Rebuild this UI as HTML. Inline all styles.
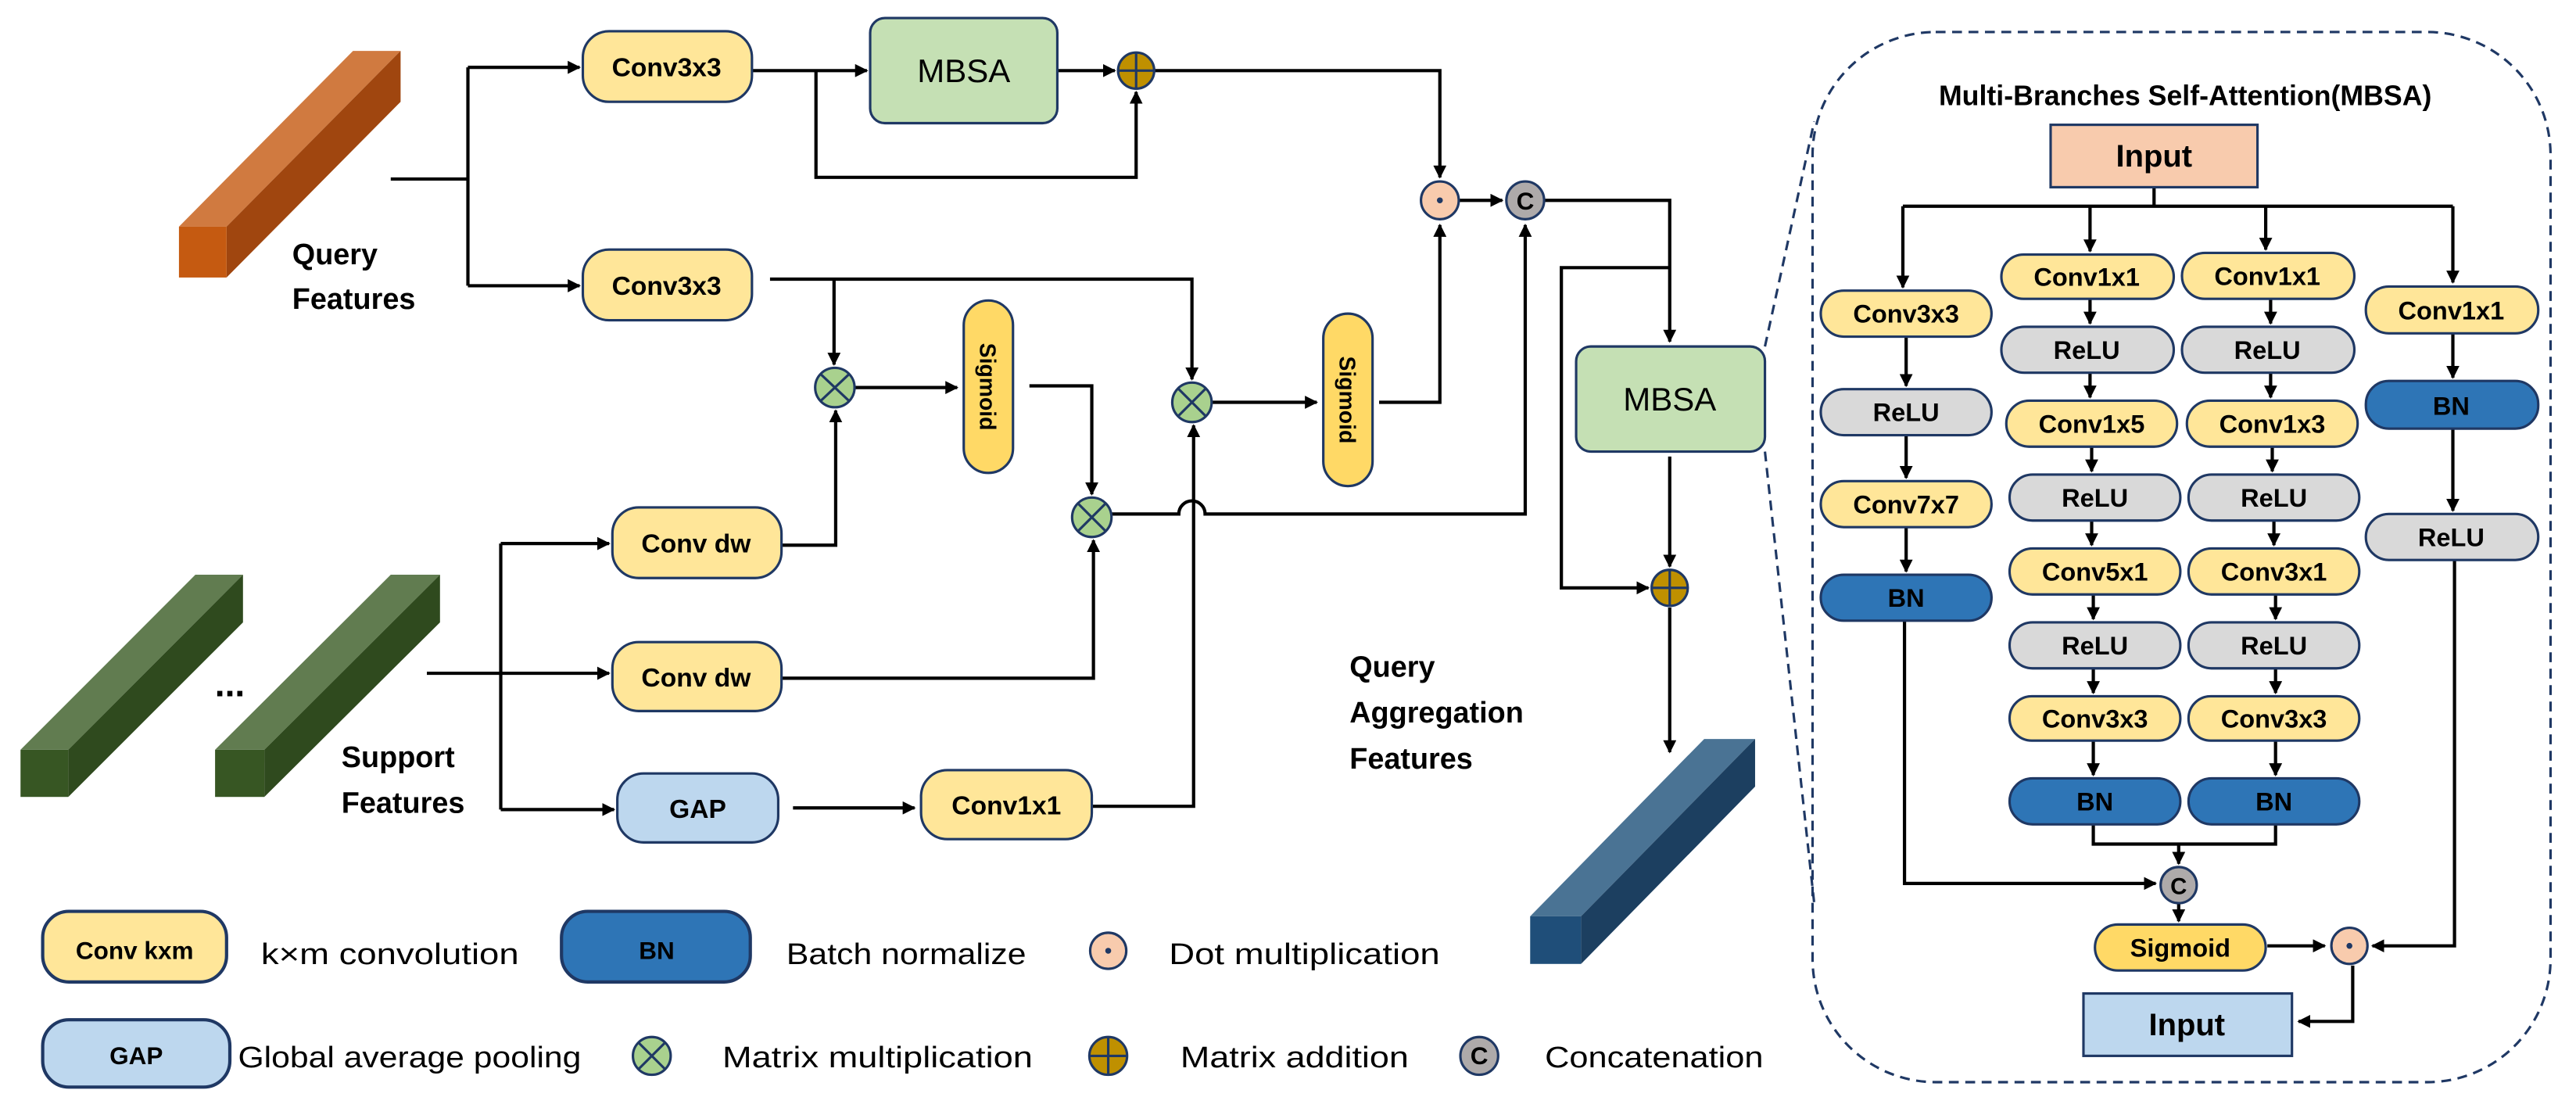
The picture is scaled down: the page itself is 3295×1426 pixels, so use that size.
<!DOCTYPE html>
<html><head><meta charset="utf-8"><style>
html,body{margin:0;padding:0;background:#fff;}
svg{display:block;}
text{font-family:"Liberation Sans",sans-serif;}
</style></head><body>
<svg width="3295" height="1426" viewBox="0 0 1569 679" preserveAspectRatio="none" xmlns="http://www.w3.org/2000/svg">
<defs>
<marker id="a" viewBox="0 0 10 10" refX="9" refY="5" markerWidth="4" markerHeight="4" orient="auto"><path d="M0,0 L10,5 L0,10 z" fill="#000"/></marker>
</defs>
<!-- blocks -->
<polygon points="109,138 215,31 244,31 138,138" fill="#d07a40"/>
<polygon points="138,138 244,31 244,62 138,169" fill="#a0460f"/>
<rect x="109" y="138" width="29" height="31" fill="#c55a11"/>
<polygon points="12.5,456.6 119,350 148,350 41.6,456.6" fill="#617c50"/>
<polygon points="41.6,456.6 148,350 148,379 41.6,485.3" fill="#2f4a1e"/>
<rect x="12.5" y="456.6" width="29.1" height="28.7" fill="#375623"/>
<polygon points="131,456.6 238,350 268,350 161,456.6" fill="#617c50"/>
<polygon points="161,456.6 268,350 268,379 161,485.3" fill="#2f4a1e"/>
<rect x="131" y="456.6" width="30" height="28.7" fill="#375623"/>
<text x="140" y="424" font-size="22" font-weight="bold" text-anchor="middle">...</text>
<polygon points="932,558 1038,450 1069,450 963,558" fill="#4a7394"/>
<polygon points="963,558 1069,450 1069,479 963,587" fill="#1c3f60"/>
<rect x="932" y="558" width="31" height="29" fill="#1f4e79"/>

<g font-weight="bold" font-size="18">
<text x="178" y="161">Query</text><text x="178" y="188">Features</text>
<text x="208" y="467">Support</text><text x="208" y="495">Features</text>
<text x="822" y="412">Query</text><text x="822" y="440">Aggregation</text><text x="822" y="468">Features</text>
</g>

<!-- connectors main -->
<g fill="none" stroke="#000" stroke-width="2">
<path d="M238,109 H285"/><path d="M285,41 V174"/>
<path d="M285,41 H353" marker-end="url(#a)"/><path d="M285,174 H353" marker-end="url(#a)"/>
<path d="M458,43 H528" marker-end="url(#a)"/>
<path d="M497,43 V108 H692 V56" marker-end="url(#a)"/>
<path d="M644,43 H679" marker-end="url(#a)"/>
<path d="M703,43 H877 V108" marker-end="url(#a)"/>
<path d="M889,122 H915" marker-end="url(#a)"/>
<path d="M941,122 H1017 V208" marker-end="url(#a)"/>
<path d="M1017,163 H951 V358 H1004" marker-end="url(#a)"/>
<path d="M1017,278 V345" marker-end="url(#a)"/>
<path d="M1017,370 V458" marker-end="url(#a)"/>
<path d="M469,170 H726 V231" marker-end="url(#a)"/>
<path d="M508,170 V222" marker-end="url(#a)"/>
<path d="M521,236 H583" marker-end="url(#a)"/>
<path d="M627,235 H665 V301" marker-end="url(#a)"/>
<path d="M476,332 H509 V250" marker-end="url(#a)"/>
<path d="M476,413 H666 V329" marker-end="url(#a)"/>
<path d="M665,491 H727 V259" marker-end="url(#a)"/>
<path d="M738,245 H802" marker-end="url(#a)"/>
<path d="M840,245 H877 V137" marker-end="url(#a)"/>
<path d="M677,313 H718 a8,8 0 0 1 16,0 H929 V137" marker-end="url(#a)"/>
<path d="M305,331 V493"/>
<path d="M305,331 H371" marker-end="url(#a)"/>
<path d="M305,493 H374" marker-end="url(#a)"/>
<path d="M260,410 H371" marker-end="url(#a)"/>
<path d="M483,492 H557" marker-end="url(#a)"/>
</g>

<!-- main boxes -->
<g stroke="#1f3864" stroke-width="1.5">
<rect x="355" y="19" width="103" height="43" rx="16" fill="#ffe699"/>
<rect x="355" y="152" width="103" height="43" rx="16" fill="#ffe699"/>
<rect x="530" y="11" width="114" height="64" rx="9" fill="#c5e0b4"/>
<rect x="587" y="183" width="30" height="105" rx="15" fill="#ffd966"/>
<rect x="806" y="191" width="30" height="105" rx="15" fill="#ffd966"/>
<rect x="373" y="309" width="103" height="43" rx="16" fill="#ffe699"/>
<rect x="373" y="391" width="103" height="42" rx="16" fill="#ffe699"/>
<rect x="376" y="471" width="98" height="42" rx="16" fill="#bdd7ee"/>
<rect x="561" y="469" width="104" height="42" rx="16" fill="#ffe699"/>
<rect x="960" y="211" width="115" height="64" rx="9" fill="#c5e0b4"/>
</g>
<g font-weight="bold" font-size="16" text-anchor="middle">
<text x="406" y="46.5">Conv3x3</text>
<text x="406" y="179.5">Conv3x3</text>
<text x="587" y="50" font-size="20" font-weight="normal">MBSA</text>
<text x="424" y="336.5">Conv dw</text>
<text x="424" y="418">Conv dw</text>
<text x="425" y="498">GAP</text>
<text x="613" y="496">Conv1x1</text>
<text x="1017" y="250" font-size="20" font-weight="normal">MBSA</text>
<text transform="translate(602,235.5) rotate(90)" y="5" font-size="13.5">Sigmoid</text>
<text transform="translate(821,243.5) rotate(90)" y="5" font-size="13.5">Sigmoid</text>
</g>

<!-- main circles -->
<g stroke="#1f3864" stroke-width="1.5">
<circle cx="692" cy="43" r="11" fill="#bf9000"/>
<circle cx="877" cy="122" r="11.5" fill="#f8cbad"/>
<circle cx="929" cy="122" r="11.5" fill="#aeaaaa"/>
<circle cx="1017" cy="358" r="11" fill="#bf9000"/>
<circle cx="508.5" cy="236" r="12" fill="#a9d18e"/>
<circle cx="726" cy="245" r="12" fill="#a9d18e"/>
<circle cx="665" cy="315" r="12" fill="#a9d18e"/>
</g>
<g stroke="#1f3864" stroke-width="1.5" fill="none">
<path d="M681,43 H703 M692,32 V54"/>
<path d="M1006,358 H1028 M1017,347 V369"/>
<path d="M500,228 L517,244 M517,228 L500,244"/>
<path d="M718,237 L734,253 M734,237 L718,253"/>
<path d="M657,307 L673,323 M673,307 L657,323"/>
</g>
<circle cx="877" cy="122" r="1.8" fill="#1f3864"/>
<text x="929" y="127.5" font-size="15" font-weight="bold" text-anchor="middle">C</text>

<!-- right panel -->
<rect x="1104" y="19.5" width="449.5" height="639.5" rx="75" fill="none" stroke="#1f3864" stroke-width="1.5" stroke-dasharray="6,4"/>
<path d="M1075,211 L1105,74 M1075,275 L1105,550" fill="none" stroke="#1f3864" stroke-width="1.5" stroke-dasharray="6,4"/>
<text x="1331" y="64" font-size="17" font-weight="bold" text-anchor="middle">Multi-Branches Self-Attention(MBSA)</text>

<g fill="none" stroke="#000" stroke-width="2">
<path d="M1312,114 V125.6"/><path d="M1159,125.6 H1494"/>
<path d="M1159,125.6 V175" marker-end="url(#a)"/>
<path d="M1273,125.6 V153" marker-end="url(#a)"/>
<path d="M1380,125.6 V152" marker-end="url(#a)"/>
<path d="M1494,125.6 V172" marker-end="url(#a)"/>
<path d="M1161,205 V235" marker-end="url(#a)"/>
<path d="M1161,265 V291" marker-end="url(#a)"/>
<path d="M1161,321 V348" marker-end="url(#a)"/>
<path d="M1273,182 V197" marker-end="url(#a)"/>
<path d="M1273,227 V242" marker-end="url(#a)"/>
<path d="M1274,272 V287" marker-end="url(#a)"/>
<path d="M1274,317 V332" marker-end="url(#a)"/>
<path d="M1275,362 V377" marker-end="url(#a)"/>
<path d="M1275,407 V422" marker-end="url(#a)"/>
<path d="M1275,451 V472" marker-end="url(#a)"/>
<path d="M1383,182 V197" marker-end="url(#a)"/>
<path d="M1383,227 V242" marker-end="url(#a)"/>
<path d="M1384,272 V287" marker-end="url(#a)"/>
<path d="M1385,317 V332" marker-end="url(#a)"/>
<path d="M1386,362 V377" marker-end="url(#a)"/>
<path d="M1386,407 V422" marker-end="url(#a)"/>
<path d="M1386,451 V472" marker-end="url(#a)"/>
<path d="M1494,203 V230" marker-end="url(#a)"/>
<path d="M1494,261 V311" marker-end="url(#a)"/>
<path d="M1275,502 V514 H1386 V502"/>
<path d="M1327,514 V526" marker-end="url(#a)"/>
<path d="M1160,378 V538 H1313" marker-end="url(#a)"/>
<path d="M1327,550 V561" marker-end="url(#a)"/>
<path d="M1381,576 H1416" marker-end="url(#a)"/>
<path d="M1495,341 V576 H1445" marker-end="url(#a)"/>
<path d="M1433,588 V622 H1400" marker-end="url(#a)"/>
</g>

<g stroke="#1f3864" stroke-width="1.5">
<rect x="1249" y="76" width="126" height="38" fill="#f8cbad"/>
<rect x="1269" y="605" width="127" height="38" fill="#bdd7ee"/>
<rect x="1109" y="177" width="104" height="28" rx="14" fill="#ffe699"/>
<rect x="1109" y="237" width="104" height="28" rx="14" fill="#d9d9d9"/>
<rect x="1109" y="293" width="104" height="28" rx="14" fill="#ffe699"/>
<rect x="1109" y="350" width="104" height="28" rx="14" fill="#2e75b6"/>
<rect x="1219" y="155" width="105" height="27" rx="13.5" fill="#ffe699"/>
<rect x="1219" y="199" width="105" height="28" rx="14" fill="#d9d9d9"/>
<rect x="1222" y="244" width="104" height="28" rx="14" fill="#ffe699"/>
<rect x="1224" y="289" width="104" height="28" rx="14" fill="#d9d9d9"/>
<rect x="1224" y="334" width="104" height="28" rx="14" fill="#ffe699"/>
<rect x="1224" y="379" width="104" height="28" rx="14" fill="#d9d9d9"/>
<rect x="1224" y="424" width="104" height="27" rx="13.5" fill="#ffe699"/>
<rect x="1224" y="474" width="104" height="28" rx="14" fill="#2e75b6"/>
<rect x="1329" y="154" width="105" height="28" rx="14" fill="#ffe699"/>
<rect x="1329" y="199" width="105" height="28" rx="14" fill="#d9d9d9"/>
<rect x="1332" y="244" width="104" height="28" rx="14" fill="#ffe699"/>
<rect x="1333" y="289" width="104" height="28" rx="14" fill="#d9d9d9"/>
<rect x="1333" y="334" width="104" height="28" rx="14" fill="#ffe699"/>
<rect x="1333" y="379" width="104" height="28" rx="14" fill="#d9d9d9"/>
<rect x="1333" y="424" width="104" height="27" rx="13.5" fill="#ffe699"/>
<rect x="1333" y="474" width="104" height="28" rx="14" fill="#2e75b6"/>
<rect x="1441" y="174.5" width="105" height="28.5" rx="14" fill="#ffe699"/>
<rect x="1441" y="232" width="105" height="29" rx="14" fill="#2e75b6"/>
<rect x="1441" y="313" width="105" height="28" rx="14" fill="#d9d9d9"/>
<rect x="1276" y="563" width="104" height="28" rx="14" fill="#ffd966"/>
<circle cx="1327" cy="539" r="11" fill="#aeaaaa"/>
<circle cx="1431" cy="576" r="11" fill="#f8cbad"/>
</g>
<circle cx="1431" cy="576" r="1.8" fill="#1f3864"/>
<g font-weight="bold" font-size="15.5" text-anchor="middle">
<text x="1312" y="101.5" font-size="19">Input</text>
<text x="1332" y="630.5" font-size="19">Input</text>
<text x="1327" y="544.5" font-size="14">C</text>
<text x="1161" y="196.5">Conv3x3</text>
<text x="1161" y="256.5">ReLU</text>
<text x="1161" y="312.5">Conv7x7</text>
<text x="1161" y="369.5">BN</text>
<text x="1271" y="174">Conv1x1</text>
<text x="1271" y="218.5">ReLU</text>
<text x="1274" y="263.5">Conv1x5</text>
<text x="1276" y="308.5">ReLU</text>
<text x="1276" y="353.5">Conv5x1</text>
<text x="1276" y="398.5">ReLU</text>
<text x="1276" y="443">Conv3x3</text>
<text x="1276" y="493.5">BN</text>
<text x="1381" y="173.5">Conv1x1</text>
<text x="1381" y="218.5">ReLU</text>
<text x="1384" y="263.5">Conv1x3</text>
<text x="1385" y="308.5">ReLU</text>
<text x="1385" y="353.5">Conv3x1</text>
<text x="1385" y="398.5">ReLU</text>
<text x="1385" y="443">Conv3x3</text>
<text x="1385" y="493.5">BN</text>
<text x="1493" y="194.5">Conv1x1</text>
<text x="1493" y="252.5">BN</text>
<text x="1493" y="332.5">ReLU</text>
<text x="1328" y="582.5">Sigmoid</text>
</g>

<!-- legend -->
<g stroke="#1f3864" stroke-width="2">
<rect x="26" y="555" width="112" height="43" rx="16" fill="#ffe699"/>
<rect x="342" y="555" width="115" height="43" rx="16" fill="#2e75b6"/>
<rect x="26" y="621" width="114" height="41" rx="16" fill="#bdd7ee"/>
<circle cx="675" cy="579" r="11" fill="#f8cbad" stroke-width="1.5"/>
<circle cx="397" cy="643" r="11.5" fill="#a9d18e" stroke-width="1.5"/>
<circle cx="675" cy="643" r="11.5" fill="#bf9000" stroke-width="1.5"/>
<circle cx="901" cy="643" r="11.5" fill="#aeaaaa" stroke-width="1.5"/>
</g>
<circle cx="675" cy="579" r="1.8" fill="#1f3864"/>
<path d="M389,635 L405,651 M405,635 L389,651 M664,643 H686 M675,632 V654" stroke="#1f3864" stroke-width="1.5" fill="none"/>
<g font-weight="bold" font-size="15" text-anchor="middle">
<text x="82" y="584">Conv kxm</text>
<text x="400" y="584">BN</text>
<text x="83" y="648">GAP</text>
<text x="901" y="648">C</text>
</g>
<g font-size="18">
<text x="159" y="587" textLength="157" lengthAdjust="spacingAndGlyphs">k×m convolution</text>
<text x="479" y="587" textLength="146" lengthAdjust="spacingAndGlyphs">Batch normalize</text>
<text x="712" y="587" textLength="165" lengthAdjust="spacingAndGlyphs">Dot multiplication</text>
<text x="145" y="650" textLength="209" lengthAdjust="spacingAndGlyphs">Global average pooling</text>
<text x="440" y="650" textLength="189" lengthAdjust="spacingAndGlyphs">Matrix multiplication</text>
<text x="719" y="650" textLength="139" lengthAdjust="spacingAndGlyphs">Matrix addition</text>
<text x="941" y="650" textLength="133" lengthAdjust="spacingAndGlyphs">Concatenation</text>
</g>
</svg>
</body></html>
